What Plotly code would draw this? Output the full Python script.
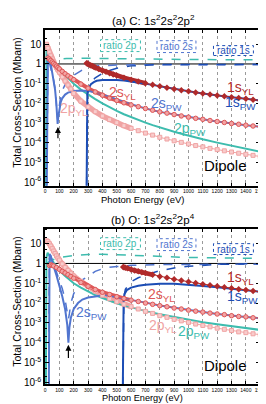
import plotly.graph_objects as go

# ---------------- Panel (a) C ----------------
A_E_2P = [10,20,30,40,50,60,70,80,90,100,120,140,160,180,200,250,300,350,400,450,500,550,600,650,700,750,800,850,900,950,1000,1050,1100,1150,1200,1250,1300,1350,1400,1450,1500]
A_2P_YL = [10,6.3,4.0,2.6,1.8,1.26,0.89,0.66,0.5,0.38,0.22,0.135,0.085,0.054,0.032,0.013,0.0066,0.0038,0.0023,0.0015,0.00105,0.00074,0.00054,0.00041,0.00031,0.000245,0.00019,0.000155,0.000126,0.000105,8.7e-5,7.2e-5,6.2e-5,5.2e-5,4.5e-5,3.9e-5,3.4e-5,2.95e-5,2.6e-5,2.3e-5,2.0e-5]
A_E_2S = [20,30,40,50,60,70,80,90,100,120,140,160,180,200,250,300,350,400,450,500,550,600,650,700,750,800,850,900,950,1000,1050,1100,1150,1200,1250,1300,1350,1400,1450,1500]
A_2S_YL = [2.0,1.78,1.51,1.26,1.07,0.91,0.78,0.66,0.56,0.42,0.32,0.25,0.20,0.16,0.095,0.059,0.038,0.026,0.0186,0.0141,0.0107,0.0083,0.0068,0.0055,0.0045,0.0037,0.0032,0.0027,0.0023,0.0020,0.00174,0.00155,0.00135,0.0012,0.00107,0.00095,0.00087,0.00078,0.00071,0.00065]
A_E_2P_PW = [5,10,20,30,40,50,60,70,80,90,100,120,140,160,180,200,250,300,350,400,450,500,550,600,650,700,750,800,850,900,950,1000,1100,1200,1300,1400,1500]
A_2P_PW = [1e-8,6.3,5.6,4.0,2.95,2.1,1.58,1.2,0.93,0.74,0.6,0.4,0.275,0.19,0.138,0.1,0.05,0.028,0.0166,0.01,0.0063,0.0042,0.0028,0.002,0.0014,0.00105,0.00079,0.0006,0.00047,0.00036,0.00029,0.00023,0.000151,0.000102,7.1e-5,5.0e-5,3.5e-5]
A_E_2S_PW = [10,15,20,25,30,40,50,60,70,78,84,88,92,100,110,120,140,160,200,250,300,350,400,450,500,550,600,700,800,900,1000,1100,1200,1300,1400,1500]
A_2S_PW = [1e-8,1.5,2.8,2.8,2.2,1.0,0.4,0.16,0.05,0.012,0.003,0.0009,0.002,0.006,0.012,0.018,0.028,0.035,0.042,0.045,0.043,0.036,0.028,0.021,0.016,0.0115,0.0088,0.0055,0.0037,0.0027,0.0020,0.00155,0.0012,0.00095,0.00078,0.00065]
A_E_R2S = [10,15,20,30,40,50,60,70,78,84,88,92,100,110,120,140,160,200,250,300,350,400,500,600,800,1000,1500]
A_R2S = [1e-8,0.9,1.4,1.2,0.66,0.32,0.15,0.055,0.015,0.004,0.0015,0.003,0.011,0.025,0.045,0.09,0.14,0.27,0.45,0.7,0.8,0.85,0.88,0.9,0.92,0.93,0.93]
A_E_R2P = [10,30,50,80,100,150,200,300,400,600,800,1000,1500]
A_R2P = [1.0,1.15,1.35,1.6,1.75,1.9,1.95,1.95,1.9,1.8,1.72,1.68,1.62]
A_E_1S = [290,295,300,310,320,330,340,350,375,400,425,450,475,500,550,600,650,700,750,800,850,900,950,1000,1050,1100,1150,1200,1250,1300,1350,1400,1450,1500]
A_1S_YL = [1.1,1.05,1.0,0.91,0.84,0.78,0.72,0.66,0.55,0.47,0.40,0.34,0.295,0.26,0.2,0.158,0.129,0.105,0.087,0.074,0.063,0.054,0.047,0.041,0.036,0.032,0.028,0.025,0.023,0.0205,0.0186,0.017,0.0155,0.0141]
A_E_1S_PW = [288,290,292,295,300,310,320,340,360,400,450,500,550,600,650,700,750,800,850,900,950,1000,1100,1200,1300,1400,1500]
A_1S_PW = [1e-8,0.003,0.015,0.03,0.05,0.075,0.095,0.12,0.14,0.155,0.16,0.155,0.145,0.13,0.115,0.1,0.087,0.074,0.063,0.054,0.047,0.041,0.032,0.025,0.0205,0.017,0.0141]
A_E_R1S = [288,292,295,300,320,350,400,450,500,600,700,800,1000,1200,1500]
A_R1S = [1e-8,0.01,0.03,0.05,0.11,0.2,0.33,0.47,0.6,0.8,0.9,0.93,0.94,0.94,0.94]

# ---------------- Panel (b) O ----------------
B_E_2P = A_E_2P
B_2P_YL = [14,12.6,10,7.6,5.6,4.2,3.2,2.4,1.86,1.48,0.95,0.63,0.44,0.32,0.23,0.12,0.068,0.04,0.025,0.0166,0.0117,0.0087,0.0066,0.005,0.0038,0.003,0.0023,0.0019,0.0015,0.00126,0.00105,0.00087,0.00074,0.00063,0.00054,0.00047,0.00041,0.00035,0.00032,0.00028,0.00025]
B_E_2P_PW = [5,10,18,25,40,60,80,100,120,140,160,180,200,250,300,350,400,450,500,550,600,650,700,750,800,850,900,950,1000,1100,1200,1300,1400,1500]
B_2P_PW = [1e-8,2.0,3.5,3.0,1.9,1.1,0.7,0.45,0.32,0.23,0.17,0.13,0.1,0.06,0.038,0.025,0.018,0.013,0.0098,0.0076,0.006,0.0048,0.0039,0.0032,0.0027,0.0023,0.0019,0.00165,0.00142,0.00108,0.00084,0.00066,0.00053,0.00044]
B_E_2S = [30,40,50,60,80,100,120,140,160,180,200,250,300,350,400,450,500,550,600,650,700,750,800,850,900,950,1000,1050,1100,1150,1200,1250,1300,1350,1400,1450,1500]
B_2S_YL = [0.8,0.85,0.8,0.75,0.62,0.5,0.4,0.33,0.27,0.22,0.18,0.11,0.07,0.048,0.035,0.027,0.021,0.017,0.014,0.012,0.01,0.0086,0.0074,0.0065,0.0056,0.005,0.0044,0.0039,0.0035,0.0031,0.0028,0.0026,0.0023,0.0021,0.002,0.0018,0.00174]
B_E_2S_PW = [25,28,32,38,45,60,80,100,120,140,155,163,170,180,200,230,260,300,350,400,450,500,550,600,700,800,900,1000,1100,1200,1300,1400,1500]
B_2S_PW = [1e-8,1.5,3.0,2.5,1.6,0.7,0.25,0.08,0.022,0.005,0.0008,0.0001,0.0006,0.0018,0.005,0.01,0.015,0.019,0.022,0.024,0.023,0.02,0.017,0.0145,0.0105,0.0076,0.0057,0.0044,0.0035,0.0028,0.0023,0.002,0.00174]
B_E_R2S = [25,30,40,60,80,100,120,140,155,163,170,180,200,224,260,312,350,407,450,500,600,800,1000,1500]
B_R2S = [1e-8,1.8,2.5,0.95,0.4,0.16,0.055,0.015,0.003,0.0015,0.003,0.01,0.03,0.056,0.15,0.25,0.4,0.56,0.65,0.7,0.8,0.88,0.9,0.92]
B_E_R2P = [10,50,100,200,300,400,600,800,1000,1500]
B_R2P = [1.0,1.5,2.0,2.5,2.8,2.9,2.6,2.3,2.0,1.8]
B_E_1S = [545,550,560,575,600,625,650,675,700,750,800,850,900,950,1000,1050,1100,1150,1200,1250,1300,1350,1400,1450,1500]
B_1S_YL = [0.66,0.65,0.61,0.58,0.5,0.44,0.4,0.36,0.33,0.27,0.22,0.19,0.16,0.137,0.118,0.103,0.09,0.079,0.07,0.063,0.056,0.05,0.046,0.041,0.037]
B_E_1S_PW = [540,543,548,555,570,600,650,700,800,900,1000,1100,1200,1300,1400,1500]
B_1S_PW = [1e-8,0.003,0.015,0.03,0.045,0.06,0.075,0.085,0.095,0.095,0.085,0.073,0.062,0.052,0.044,0.037]
B_E_R1S = [540,545,550,560,600,650,700,800,900,1000,1100,1200,1300,1400,1500]
B_R1S = [1e-8,0.004,0.02,0.05,0.12,0.19,0.26,0.43,0.59,0.72,0.81,0.89,0.93,0.96,0.98]

Y_TICKVALS = [10, 1, 0.1, 0.01, 0.001, 1e-4, 1e-5, 1e-6]
Y_TICKTEXT = ["10", "1", "10<sup>-1</sup>", "10<sup>-2</sup>", "10<sup>-3</sup>",
              "10<sup>-4</sup>", "10<sup>-5</sup>", "10<sup>-6</sup>"]

C_1S_YL = "#b02a2a"
C_2S_YL = "#de5757"
C_2S_YL_F = "#f3a4a4"
C_2P_YL = "#f0a3a3"
C_2P_YL_F = "#f8cccc"
C_1S_PW = "#1c4db5"
C_2S_PW = "#5175cf"
C_2P_PW = "#3dbcae"

FONT = "Liberation Sans, Arial, sans-serif"

fig = go.Figure()


def add(xs, ys, axis, **kw):
    xa, ya = ("x", "y") if axis == "a" else ("x2", "y2")
    fig.add_trace(go.Scatter(x=xs, y=ys, xaxis=xa, yaxis=ya, showlegend=False,
                             hoverinfo="skip", **kw))


def band(xs, ys, emax):
    pairs = [(x, y) for x, y in zip(xs, ys) if x <= emax]
    return [p[0] for p in pairs], [p[1] for p in pairs]


for ax, d in (("a", dict(e2p=A_E_2P, p2=A_2P_YL, e2s=A_E_2S, s2=A_2S_YL,
                         e2ppw=A_E_2P_PW, p2pw=A_2P_PW, e2spw=A_E_2S_PW, s2pw=A_2S_PW,
                         er2s=A_E_R2S, r2s=A_R2S, er2p=A_E_R2P, r2p=A_R2P,
                         e1s=A_E_1S, s1=A_1S_YL, e1spw=A_E_1S_PW, s1pw=A_1S_PW,
                         er1s=A_E_R1S, r1s=A_R1S, band1=700)),
              ("b", dict(e2p=B_E_2P, p2=B_2P_YL, e2s=B_E_2S, s2=B_2S_YL,
                         e2ppw=B_E_2P_PW, p2pw=B_2P_PW, e2spw=B_E_2S_PW, s2pw=B_2S_PW,
                         er2s=B_E_R2S, r2s=B_R2S, er2p=B_E_R2P, r2p=B_R2P,
                         e1s=B_E_1S, s1=B_1S_YL, e1spw=B_E_1S_PW, s1pw=B_1S_PW,
                         er1s=B_E_R1S, r1s=B_R1S, band1=770))):
    add([0, 1500], [1, 1], ax, mode="lines", line=dict(color="black", width=1))
    add(d["er2p"], d["r2p"], ax, mode="lines", line=dict(color=C_2P_PW, width=1.5, dash="dash"))
    add(d["er2s"], d["r2s"], ax, mode="lines", line=dict(color=C_2S_PW, width=1.5, dash="dash"))
    add(d["er1s"], d["r1s"], ax, mode="lines", line=dict(color=C_1S_PW, width=1.5, dash="dash"))
    bx, by = band(d["e2p"], d["p2"], 620)
    add(bx, by, ax, mode="lines", line=dict(color=C_2P_YL, width=5.5))
    bx, by = band(d["e2s"], d["s2"], 620)
    add(bx, by, ax, mode="lines", line=dict(color=C_2S_YL, width=4))
    bx, by = band(d["e1s"], d["s1"], d["band1"])
    add(bx, by, ax, mode="lines", line=dict(color=C_1S_YL, width=4.5))
    add(d["e2ppw"], d["p2pw"], ax, mode="lines", line=dict(color=C_2P_PW, width=2))
    add(d["e2spw"], d["s2pw"], ax, mode="lines", line=dict(color=C_2S_PW, width=2))
    add(d["e1spw"], d["s1pw"], ax, mode="lines", line=dict(color=C_1S_PW, width=2))
    add(d["e2p"], d["p2"], ax, mode="lines+markers", line=dict(color=C_2P_YL, width=1),
        marker=dict(symbol="square", size=4, color=C_2P_YL_F, line=dict(color=C_2P_YL, width=1)))
    add(d["e2s"], d["s2"], ax, mode="lines+markers", line=dict(color=C_2S_YL, width=1),
        marker=dict(symbol="circle", size=4.5, color=C_2S_YL_F, line=dict(color=C_2S_YL, width=1)))
    add(d["e1s"], d["s1"], ax, mode="lines+markers", line=dict(color=C_1S_YL, width=1),
        marker=dict(symbol="diamond", size=5, color=C_1S_YL, line=dict(color=C_1S_YL, width=0)))

W, H = 266, 404
XD = [37 / W, 258 / W]
YA = [1 - 179.5 / H, 1 - 22.7 / H]
YB = [1 - 380 / H, 1 - 223 / H]

xcommon = dict(range=[0, 1500], tickmode="linear", tick0=0, dtick=100,
               showgrid=True, gridcolor="#9a9a9a", griddash="dot", gridwidth=1,
               showline=True, linecolor="black", linewidth=1.5, mirror="ticks",
               ticks="inside", ticklen=3, tickcolor="black",
               tickfont=dict(size=5, family=FONT, color="black"), zeroline=False)
ycommon = dict(type="log", tickmode="array", tickvals=Y_TICKVALS, ticktext=Y_TICKTEXT,
               showgrid=False, showline=True, linecolor="black", linewidth=1.5, mirror="ticks",
               ticks="inside", ticklen=4, tickcolor="black",
               minor=dict(ticks="inside", ticklen=2, tickcolor="black", showgrid=False),
               tickfont=dict(size=10, family=FONT, color="black"), zeroline=False)

fig.update_layout(
    width=W, height=H, autosize=False,
    margin=dict(l=0, r=0, t=0, b=0),
    paper_bgcolor="white", plot_bgcolor="white",
    xaxis=dict(domain=XD, anchor="y", **xcommon),
    yaxis=dict(domain=YA, anchor="x", range=[-6.18, 1.7], **ycommon),
    xaxis2=dict(domain=XD, anchor="y2", **xcommon),
    yaxis2=dict(domain=YB, anchor="x2", range=[-6.1, 1.75], **ycommon),
)

ann = []


def ptxt(text, px, py, size, color="black", angle=0):
    ann.append(dict(text=text, x=px / W, y=1 - py / H, xref="paper", yref="paper",
                    showarrow=False, textangle=angle, xanchor="center", yanchor="middle",
                    font=dict(size=size, family=FONT, color=color)))


ptxt("(a) C: 1s<sup>2</sup>2s<sup>2</sup>2p<sup>2</sup>", 148, 12, 11.5)
ptxt("(b) O: 1s<sup>2</sup>2s<sup>2</sup>2p<sup>4</sup>", 148, 213, 11.5)
ptxt("Photon Energy (eV)", 137, 193, 9.5)
ptxt("Photon Energy (eV)", 137, 394, 9.2)
ptxt("Total Cross-Section (Mbarn)", 8, 95, 10.5, angle=-90)
ptxt("Total Cross-Section (Mbarn)", 8, 296, 10.5, angle=-90)

shapes = []
for (txt, color, x0, x1, y0, y1) in [
        ("ratio 2p", C_2P_PW, 94, 135, 32, 44), ("ratio 2s", C_2S_PW, 152, 192, 33, 45),
        ("ratio 1s", C_1S_PW, 210, 251, 38, 48),
        ("ratio 2p", C_2P_PW, 94, 135, 232, 244), ("ratio 2s", C_2S_PW, 152, 192, 233, 245),
        ("ratio 1s", C_1S_PW, 210, 251, 238, 249)]:
    shapes.append(dict(type="rect", xref="paper", yref="paper", x0=x0 / W, x1=x1 / W,
                       y0=1 - y1 / H, y1=1 - y0 / H, line=dict(color=color, width=1, dash="dot"),
                       fillcolor="white", layer="above"))
    ptxt(txt, (x0 + x1) / 2, (y0 + y1) / 2, 10, color)


def dtxt(text, e, logv, axis, size, color):
    xa, ya = ("x", "y") if axis == "a" else ("x2", "y2")
    ann.append(dict(text=text, x=e, y=logv, xref=xa, yref=ya, showarrow=False,
                    font=dict(size=size, family=FONT, color=color)))


LBL = 14
for axis, items in (("a", [("1s<sub>YL</sub>", 1364, -1.2, C_1S_YL), ("1s<sub>PW</sub>", 1364, -2.0, C_1S_PW),
                           ("2s<sub>PW</sub>", 848, -2.05, C_2S_PW), ("2s<sub>YL</sub>", 543, -1.45, C_2S_YL),
                           ("2p<sub>YL</sub>", 204, -2.3, C_2P_YL), ("2p<sub>PW</sub>", 1011, -3.3, C_2P_PW)]),
                    ("b", [("1s<sub>YL</sub>", 1364, -0.75, C_1S_YL), ("1s<sub>PW</sub>", 1378, -1.7, C_1S_PW),
                           ("2s<sub>YL</sub>", 814, -1.6, C_2S_YL), ("2s<sub>PW</sub>", 326, -2.5, C_2S_PW),
                           ("2p<sub>YL</sub>", 821, -3.15, C_2P_YL), ("2p<sub>PW</sub>", 1038, -3.45, C_2P_PW)])):
    for t, e, lv, c in items:
        dtxt(t, e, lv, axis, LBL, c)
    dtxt("Dipole", 1256, -5.15, axis, 15, "black")

ann.append(dict(x=90, y=-3.2, ax=90, ay=-3.85, xref="x", yref="y", axref="x", ayref="y",
                text="", showarrow=True, arrowhead=2, arrowsize=1, arrowwidth=1.2, arrowcolor="black"))
ann.append(dict(x=163, y=-4.1, ax=163, ay=-4.85, xref="x2", yref="y2", axref="x2", ayref="y2",
                text="", showarrow=True, arrowhead=2, arrowsize=1, arrowwidth=1.2, arrowcolor="black"))

fig.update_layout(annotations=ann, shapes=shapes)
fig.write_html("out.html")
